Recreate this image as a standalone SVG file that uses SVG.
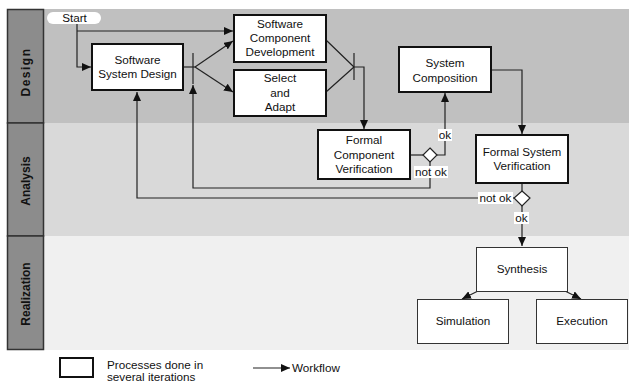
<svg xmlns="http://www.w3.org/2000/svg" width="629" height="383" viewBox="0 0 629 383">
<style>
text{font-family:"Liberation Sans",Arial,sans-serif;font-size:11.7px;fill:#111;text-anchor:middle}
.lane-h{fill:#8c8c8c;stroke:#333;stroke-width:1.5}
.lab{font-weight:bold;font-size:12px}
.it{fill:#fff;stroke:#111;stroke-width:2}
.pl{fill:#fff;stroke:#333;stroke-width:1}
.c{fill:none;stroke:#222;stroke-width:1.2}
.ca{fill:none;stroke:#222;stroke-width:1.2;marker-end:url(#ah)}
.dia{fill:#fff;stroke:#222;stroke-width:1.2}
.lbg{fill:#fff}
</style>
<defs>
<marker id="ah" markerUnits="userSpaceOnUse" markerWidth="10" markerHeight="8" refX="9" refY="4" orient="auto">
<path d="M0,0 L9,4 L0,8 Z" fill="#111"/>
</marker>
</defs>
<rect width="629" height="383" fill="#fff"/>
<g id="lanes">
<rect x="44" y="9" width="585" height="114" fill="#c0c0c0"/>
<rect x="44" y="123" width="585" height="113" fill="#d9d9d9"/>
<rect x="44" y="236" width="585" height="114" fill="#f0f0f0"/>
<rect class="lane-h" x="7.5" y="9.5" width="36" height="113.5"/>
<rect class="lane-h" x="7.5" y="123" width="36" height="113"/>
<rect class="lane-h" x="7.5" y="236" width="36" height="113.5"/>
<text class="lab" transform="translate(30,72) rotate(-90)" letter-spacing="1.5">Design</text>
<text class="lab" transform="translate(30,181) rotate(-90)">Analysis</text>
<text class="lab" transform="translate(30,294) rotate(-90)">Realization</text>
</g>
<g id="connectors">
<path class="ca" d="M77,24 V67 H91"/>
<path class="ca" d="M77,31 H233"/>
<path class="c" d="M183,67 H195"/>
<path class="c" d="M193,53 V84"/>
<path class="ca" d="M195,67 L233,41"/>
<path class="ca" d="M195,67 L233,92"/>
<path class="c" d="M326,40 L354,67 M326,92 L354,67"/>
<path class="c" d="M354,53 V80"/>
<path class="ca" d="M354,67 H364 V129"/>
<path class="c" d="M410,155 H423"/>
<path class="ca" d="M437,155 H445 V93"/>
<path class="ca" d="M430,162 V188 H193 V85"/>
<path class="ca" d="M491,70 H522 V134"/>
<path class="c" d="M522,183 V191"/>
<path class="ca" d="M514,198 H137 V92"/>
<path class="ca" d="M522,206 V246"/>
<path class="ca" d="M478,291 L462,299"/>
<path class="ca" d="M565,291 L581,299"/>
<path class="ca" d="M253,368 H290"/>
</g>
<g id="start">
<rect x="47" y="12" width="54" height="12" rx="6" fill="#fff"/>
<text x="74.5" y="22">Start</text>
</g>
<g id="ssd">
<rect class="it" x="92" y="44" width="91" height="46"/>
<text x="137.5" y="64">Software</text>
<text x="137.5" y="78">System Design</text>
</g>
<g id="scd">
<rect class="it" x="234" y="15" width="92" height="47"/>
<text x="280" y="28">Software</text>
<text x="280" y="42">Component</text>
<text x="280" y="56">Development</text>
</g>
<g id="select">
<rect class="it" x="234" y="70" width="92" height="46"/>
<text x="280" y="82">Select</text>
<text x="280" y="97">and</text>
<text x="280" y="111">Adapt</text>
</g>
<g id="fcv">
<rect class="it" x="318" y="130" width="92" height="49"/>
<text x="364" y="144">Formal</text>
<text x="364" y="159">Component</text>
<text x="364" y="173">Verification</text>
</g>
<g id="dec1">
<path class="dia" d="M430,148 L437,155 L430,162 L423,155 Z"/>
<rect class="lbg" x="438" y="129" width="14" height="12"/>
<text x="445" y="139">ok</text>
<rect class="lbg" x="414" y="166" width="34" height="12"/>
<text x="431" y="176">not ok</text>
</g>
<g id="sc">
<rect class="it" x="399" y="47" width="92" height="45"/>
<text x="445" y="67">System</text>
<text x="445" y="82">Composition</text>
</g>
<g id="fsv">
<rect class="it" x="476" y="135" width="92" height="48"/>
<text x="522" y="156">Formal System</text>
<text x="522" y="170">Verification</text>
</g>
<g id="dec2">
<path class="dia" d="M522,191 L530,198 L522,206 L514,198 Z"/>
<rect class="lbg" x="478" y="192" width="35" height="12"/>
<text x="495.5" y="202">not ok</text>
<rect class="lbg" x="514" y="212" width="15" height="12"/>
<text x="521.5" y="222">ok</text>
</g>
<g id="synthesis">
<rect class="pl" x="476.5" y="247.5" width="91" height="44"/>
<text x="522" y="273">Synthesis</text>
</g>
<g id="simulation">
<rect class="pl" x="417.5" y="299.5" width="91" height="44"/>
<text x="463" y="325">Simulation</text>
</g>
<g id="execution">
<rect class="pl" x="536.5" y="299.5" width="91" height="44"/>
<text x="582" y="325">Execution</text>
</g>
<g id="legend">
<rect class="it" x="60" y="358" width="33" height="19"/>
<text x="107" y="369" style="text-anchor:start">Processes done in</text>
<text x="107" y="381" style="text-anchor:start">several iterations</text>
<text x="292" y="372" style="text-anchor:start">Workflow</text>
</g>
</svg>
